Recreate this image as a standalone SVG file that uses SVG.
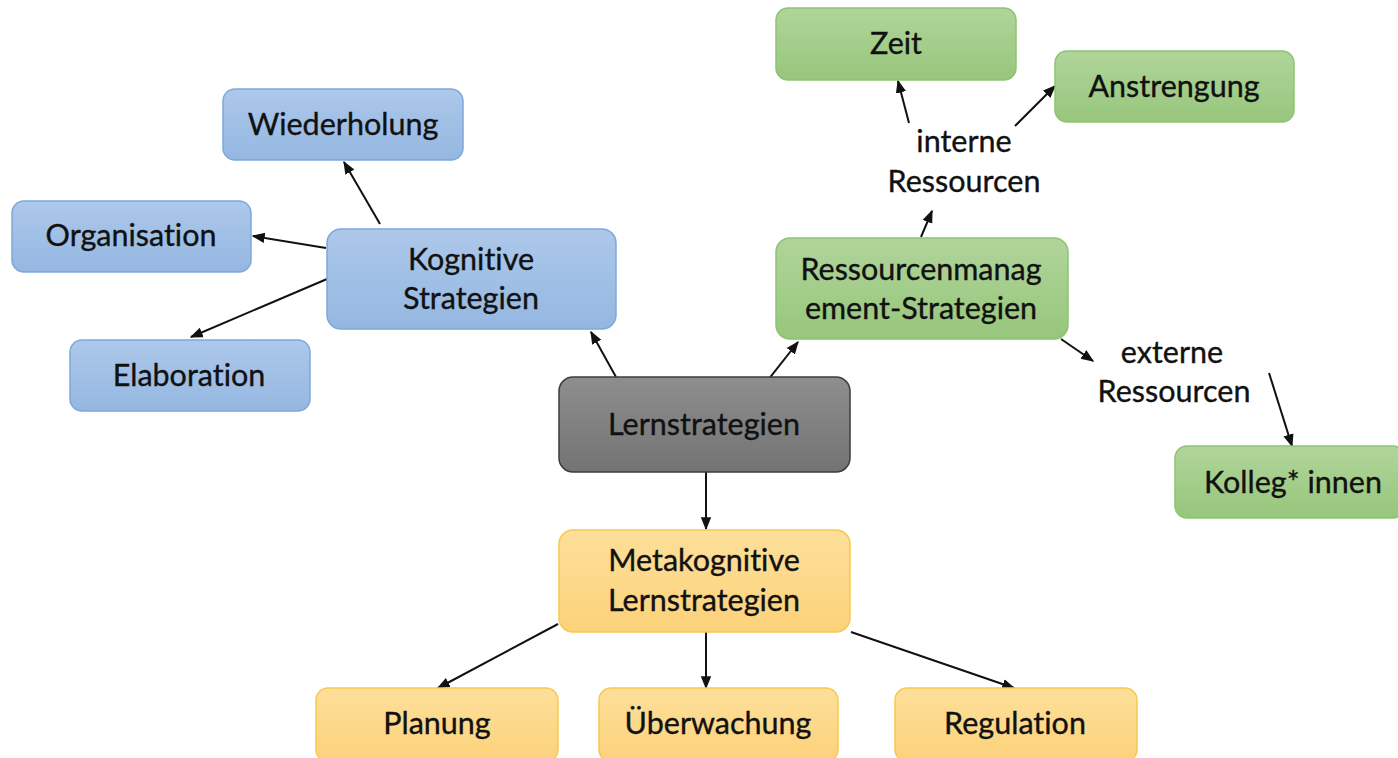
<svg xmlns="http://www.w3.org/2000/svg" width="1398" height="758" viewBox="0 0 1398 758">
<style>
text{font-family:Lato,"Open Sans","Liberation Sans",sans-serif;font-size:30.5px;fill:#111;stroke:#111;stroke-width:0.35;text-anchor:middle;font-variant-ligatures:none;font-feature-settings:"liga" 0}
.blue{fill:url(#gb);stroke:#7fa8d9;stroke-width:1.5}
.green{fill:url(#gg);stroke:#8dc373;stroke-width:1.5}
.yellow{fill:url(#gy);stroke:#f6c94e;stroke-width:1.5}
.gray{fill:url(#gk);stroke:#3c3c3c;stroke-width:1.5}
.c line{stroke:#111;stroke-width:2;marker-end:url(#ah)}
</style>
<defs>
<linearGradient id="gb" x1="0" y1="0" x2="0" y2="1"><stop offset="0" stop-color="#adc8ea"/><stop offset="1" stop-color="#94b7e1"/></linearGradient>
<linearGradient id="gg" x1="0" y1="0" x2="0" y2="1"><stop offset="0" stop-color="#b0d59a"/><stop offset="1" stop-color="#97c67c"/></linearGradient>
<linearGradient id="gy" x1="0" y1="0" x2="0" y2="1"><stop offset="0" stop-color="#fddf9a"/><stop offset="1" stop-color="#fcd27a"/></linearGradient>
<linearGradient id="gk" x1="0" y1="0" x2="0" y2="1"><stop offset="0" stop-color="#8e8e8e"/><stop offset="1" stop-color="#737373"/></linearGradient>
<marker id="ah" viewBox="0 0 10 10" refX="9" refY="5" markerWidth="6.5" markerHeight="6.5" orient="auto" markerUnits="strokeWidth"><path d="M0,1 L10,5 L0,9 Z" fill="#111"/></marker>
</defs>
<rect width="1398" height="758" fill="#fff"/>
<g class="c" id="connectors">
<line x1="616" y1="377" x2="591" y2="332"/>
<line x1="761" y1="389" x2="798" y2="342"/>
<line x1="706" y1="472" x2="706" y2="529"/>
<line x1="380" y1="224" x2="344" y2="162"/>
<line x1="326" y1="248" x2="253" y2="236"/>
<line x1="327" y1="279" x2="191" y2="337"/>
<line x1="921" y1="237" x2="932" y2="211"/>
<line x1="909" y1="123" x2="898" y2="81"/>
<line x1="1015" y1="126" x2="1055" y2="86"/>
<line x1="1061" y1="339" x2="1093" y2="361"/>
<line x1="1269" y1="373" x2="1292" y2="446"/>
<line x1="558" y1="624" x2="438" y2="688"/>
<line x1="706" y1="632" x2="706" y2="688"/>
<line x1="851" y1="632" x2="1014" y2="688"/>
</g>
<g id="wiederholung"><rect class="blue" x="223" y="89" width="240" height="71" rx="12"/><text x="343" y="135">Wiederholung</text></g>
<g id="organisation"><rect class="blue" x="12" y="201" width="239" height="71" rx="12"/><text x="131" y="246">Organisation</text></g>
<g id="kognitive"><rect class="blue" x="327" y="229" width="289" height="100" rx="14"/><text x="471" y="270">Kognitive</text><text x="471" y="309">Strategien</text></g>
<g id="elaboration"><rect class="blue" x="70" y="340" width="240" height="71" rx="12"/><text x="189" y="386">Elaboration</text></g>
<g id="lernstrategien"><rect class="gray" x="559" y="377" width="291" height="95" rx="14"/><text x="704" y="435">Lernstrategien</text></g>
<g id="metakognitive"><rect class="yellow" x="559" y="530" width="291" height="102" rx="14"/><text x="704" y="571">Metakognitive</text><text x="704" y="611">Lernstrategien</text></g>
<g id="planung"><rect class="yellow" x="316" y="688" width="242" height="74" rx="12"/><text x="437" y="734">Planung</text></g>
<g id="ueberwachung"><rect class="yellow" x="599" y="688" width="239" height="74" rx="12"/><text x="718" y="734">Überwachung</text></g>
<g id="regulation"><rect class="yellow" x="895" y="688" width="242" height="74" rx="12"/><text x="1015" y="734">Regulation</text></g>
<g id="zeit"><rect class="green" x="776" y="8" width="240" height="72" rx="12"/><text x="896" y="54">Zeit</text></g>
<g id="anstrengung"><rect class="green" x="1055" y="51" width="239" height="71" rx="12"/><text x="1174" y="97">Anstrengung</text></g>
<g id="ressourcenmanagement"><rect class="green" x="776" y="238" width="292" height="101" rx="14"/><text x="921" y="280">Ressourcenmanag</text><text x="921" y="319">ement-Strategien</text></g>
<g id="kollegen"><rect class="green" x="1175" y="446" width="230" height="72" rx="12"/><text x="1293" y="493">Kolleg* innen</text></g>
<g id="interne"><text x="964" y="152">interne</text><text x="964" y="192">Ressourcen</text></g>
<g id="externe"><text x="1172" y="363">externe</text><text x="1174" y="402">Ressourcen</text></g>
</svg>
